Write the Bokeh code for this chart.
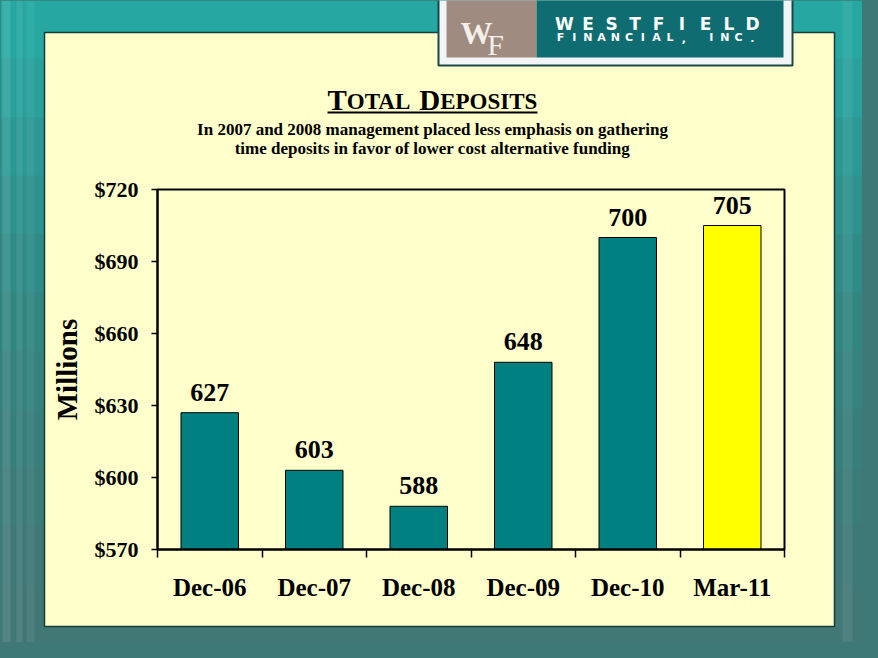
from bokeh.plotting import figure
from bokeh.models import (ColumnDataSource, FixedTicker, Range1d, LabelSet, Label,
                          BoxAnnotation, LinearAxis, GlobalInlineStyleSheet)
from bokeh.embed import file_html
from bokeh.resources import INLINE

# ---------------- data ----------------
categories = ["Dec-06", "Dec-07", "Dec-08", "Dec-09", "Dec-10", "Mar-11"]
deposits = [627, 603, 588, 648, 700, 705]
bar_colors = ["#008080", "#008080", "#008080", "#008080", "#008080", "#FFFF00"]
y_ticks = [570, 600, 630, 660, 690, 720]
y_tick_labels = ["$570", "$600", "$630", "$660", "$690", "$720"]
title_text = "TOTAL DEPOSITS"
subtitle_lines = ["In 2007 and 2008 management placed less emphasis on gathering",
                  "time deposits in favor of lower cost alternative funding"]
y_label = "Millions"
logo_top = "WESTFIELD"
logo_bottom = "FINANCIAL, INC."

SERIF = "Liberation Serif"
W, H = 862, 642

# plot-area geometry (canvas pixels)
PL, PR, PT, PB = 157, 784, 189, 549
n = len(categories)
ux = (PR - PL) / n
uy = (PB - PT) / (y_ticks[-1] - y_ticks[0])

xpos = [i + 0.5 for i in range(n)]
src = ColumnDataSource(dict(x=xpos, top=deposits, color=bar_colors,
                            txt=[str(v) for v in deposits]))

p = figure(width=W, height=H, output_backend="svg", toolbar_location=None,
           x_range=Range1d(-PL / ux, n + (W - PR) / ux),
           y_range=Range1d(y_ticks[0] - (H - PB) / uy, y_ticks[-1] + PT / uy),
           x_axis_location=None, y_axis_location=None,
           min_border=0)
p.min_border_left = p.min_border_right = p.min_border_top = p.min_border_bottom = 0
p.border_fill_color = "#34837f"
p.background_fill_color = "#34837f"
p.outline_line_color = None
p.xgrid.grid_line_color = None
p.ygrid.grid_line_color = None
p.stylesheets = [GlobalInlineStyleSheet(css="html, body { background: #3e7977; }")]


def cbox(l, r, t, b, **kw):
    return BoxAnnotation(left=l, right=r, top=t, bottom=b,
                         left_units="canvas", right_units="canvas",
                         top_units="canvas", bottom_units="canvas", **kw)


def clabel(x, y, text, size, font=SERIF, bold=True, color="black", align="left"):
    # y is the intended baseline; small correction for how labels sit
    return Label(x=x, y=y - 0.25 * size, text=text, x_units="canvas", y_units="canvas",
                 text_font=font, text_font_style="bold" if bold else "normal",
                 text_font_size=f"{size}px", text_color=color,
                 text_align=align, text_baseline="alphabetic")


# ---------------- background decoration ----------------
bands = ["#26a7a1", "#29a09b", "#2b9894", "#2d918d", "#2f8b87", "#328682",
         "#35827e", "#387e7b", "#3b7b78", "#3e7977", "#417876"]
bh = H / len(bands)
for i, c in enumerate(bands):
    p.add_layout(cbox(0, W, i * bh, (i + 1) * bh + 1, fill_color=c, fill_alpha=1.0,
                      line_color=None, level="underlay"))
for x0, x1, a in [(2, 10, 0.10), (16, 22, 0.08), (26, 34, 0.06),
                  (842, 852, 0.07)]:
    p.add_layout(cbox(x0, x1, 0, H, fill_color="white", fill_alpha=a,
                      line_color=None, level="underlay"))

# slide panel
p.add_layout(cbox(44, 834, 32, 626, fill_color="#FFFFCC", fill_alpha=1.0,
                  line_color="#173c3b", line_alpha=1.0, line_width=1.5,
                  level="underlay"))

# logo
p.add_layout(cbox(438, 792, -3, 65, fill_color="#f2f5f5", fill_alpha=1.0,
                  line_color="#1b4746", line_alpha=1.0, line_width=2, level="underlay"))
p.add_layout(cbox(446, 536, -3, 57, fill_color="#9f8b80",
                  fill_alpha=1.0, line_color=None, level="underlay"))
p.add_layout(cbox(536, 783, -3, 57, fill_color="#0f6d71",
                  fill_alpha=1.0, line_color=None, level="underlay"))
p.add_layout(clabel(476, 40, "W", 32, color="#f3efe9", align="center"))
p.add_layout(clabel(495, 51, "F", 30, bold=False, color="#f3efe9", align="center"))
for i, ch in enumerate(logo_top):
    p.add_layout(clabel(564 + i * 23.5, 28, ch, 17, font="DejaVu Sans",
                        color="white", align="center"))
for i, ch in enumerate(logo_bottom):
    p.add_layout(clabel(560 + i * 13.7, 40, ch, 11, font="DejaVu Sans",
                        color="white", align="center"))

# ---------------- title (small caps) ----------------
title_parts = [(title_text[0], 29, 327), (title_text[1:5], 23, 346.3),
               (title_text[6], 29, 418.8), (title_text[7:], 23, 439.7)]
for txt, size, x in title_parts:
    p.add_layout(clabel(x, 107, txt, size))
p.add_layout(cbox(327, 537, 111, 113, fill_color="black",
                  fill_alpha=1.0, line_color=None))
for j, line in enumerate(subtitle_lines):
    p.add_layout(clabel(432, 133 + 19 * j, line, 17, align="center"))

# ---------------- bars ----------------
p.vbar(x="x", top="top", bottom=y_ticks[0], width=0.55, source=src,
       fill_color="color", line_color="black", line_width=1)

p.add_layout(LabelSet(x="x", y="top", text="txt", source=src, y_offset=12,
                      text_font=SERIF, text_font_style="bold", text_font_size="26px",
                      text_color="black", text_align="center",
                      text_baseline="alphabetic"))

# plot-area outline (top / right)
p.add_layout(BoxAnnotation(left=0, right=n, bottom=y_ticks[0], top=y_ticks[-1],
                           fill_alpha=0, line_color="black", line_alpha=1.0,
                           line_width=2))

# ---------------- axes ----------------
ya = LinearAxis(fixed_location=0, bounds=(y_ticks[0], y_ticks[-1]),
                ticker=FixedTicker(ticks=y_ticks))
ya.major_label_overrides = {t: l for t, l in zip(y_ticks, y_tick_labels)}
ya.major_label_text_font = SERIF
ya.major_label_text_font_style = "bold"
ya.major_label_text_font_size = "22px"
ya.major_label_text_color = "black"
ya.major_tick_out = 6
ya.major_tick_in = 0
ya.major_tick_line_color = "black"
ya.major_tick_line_width = 1.5
ya.minor_tick_line_color = None
ya.axis_line_color = "black"
ya.axis_line_width = 2
ya.major_label_standoff = 13
ya.axis_label = y_label
ya.axis_label_text_font = SERIF
ya.axis_label_text_font_style = "bold"
ya.axis_label_text_font_size = "29px"
ya.axis_label_text_color = "black"
ya.axis_label_standoff = 9
p.add_layout(ya, "left")

xa = LinearAxis(fixed_location=y_ticks[0], bounds=(0, n),
                ticker=FixedTicker(ticks=xpos, minor_ticks=list(range(n + 1))))
xa.major_label_overrides = {x: c for x, c in zip(xpos, categories)}
xa.major_label_text_font = SERIF
xa.major_label_text_font_style = "bold"
xa.major_label_text_font_size = "25px"
xa.major_label_text_color = "black"
xa.major_tick_out = 0
xa.major_tick_in = 0
xa.minor_tick_out = 8
xa.minor_tick_in = 0
xa.minor_tick_line_color = "black"
xa.minor_tick_line_width = 1.5
xa.axis_line_color = "black"
xa.axis_line_width = 2
xa.major_label_standoff = 16
p.add_layout(xa, "below")

open("out.html", "w").write(file_html(p, INLINE))
